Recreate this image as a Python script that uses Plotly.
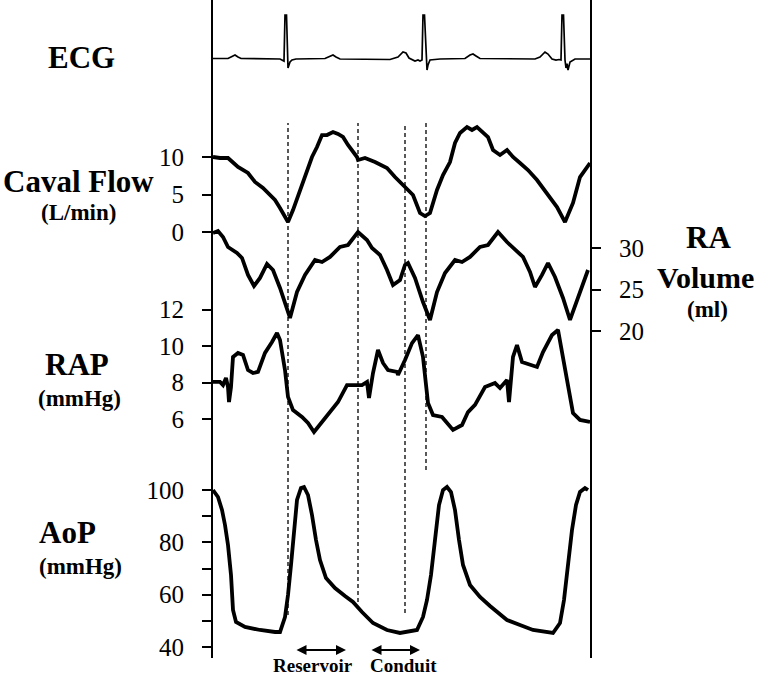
import plotly.graph_objects as go

# ---------------- data (time in s) ----------------
ecg_t = [0, 0.075, 0.095, 0.11, 0.125, 0.14, 0.335, 0.35, 0.355, 0.36, 0.3675, 0.375, 0.385, 0.395, 0.415,
         0.56, 0.585, 0.6, 0.615, 0.635, 0.885, 0.925, 0.95, 0.965, 0.98, 1.01, 1.025, 1.035, 1.045,
         1.05, 1.0575, 1.065, 1.07, 1.075, 1.085, 1.135, 1.26, 1.285, 1.3, 1.315, 1.335, 1.61, 1.635,
         1.66, 1.675, 1.695, 1.715, 1.73, 1.74, 1.745, 1.7525, 1.76, 1.765, 1.77, 1.775, 1.785, 1.81, 1.885]
ecg_mv = [0, 0, 0.048, 0.083, 0.036, 0, -0.012, -0.036, -0.06, 1.036, 1.036, -0.226, -0.083, -0.036, -0.012,
          0, 0.06, 0.083, 0.036, -0.012, -0.024, 0.036, 0.155, 0.131, 0.012, -0.06, -0.036, -0.06, -0.036,
          1.036, 1.036, -0.036, -0.274, -0.155, -0.036, -0.012, 0, 0.083, 0.107, 0.06, 0, -0.012, 0.036,
          0.155, 0.107, -0.012, -0.036, -0.024, -0.036, 1.036, 1.036, -0.036, -0.226, -0.12, -0.274, -0.083, -0.012, -0.012]

caval_t = [0, 0.035, 0.075, 0.095, 0.125, 0.175, 0.21, 0.25, 0.285, 0.31, 0.335, 0.375, 0.4, 0.435, 0.46,
           0.495, 0.52, 0.545, 0.57, 0.6, 0.625, 0.65, 0.675, 0.72, 0.725, 0.76, 0.81, 0.87, 0.91, 0.96,
           1.0, 1.035, 1.06, 1.085, 1.12, 1.15, 1.185, 1.21, 1.235, 1.27, 1.295, 1.32, 1.35, 1.375, 1.4,
           1.435, 1.47, 1.5, 1.535, 1.575, 1.62, 1.67, 1.72, 1.76, 1.8, 1.835, 1.87, 1.885]
caval_flow = [10.0, 9.87, 9.87, 9.33, 8.67, 7.87, 6.67, 5.87, 4.93, 4.27, 3.2, 1.33, 2.93, 5.6, 7.33,
              10.0, 11.33, 12.93, 12.93, 13.33, 13.07, 12.67, 11.6, 10.0, 9.6, 9.87, 9.33, 8.53, 7.33, 5.93,
              4.93, 2.53, 2.13, 2.53, 5.6, 7.6, 9.33, 11.87, 13.2, 14.0, 13.6, 14.0, 13.2, 12.67, 10.93,
              10.27, 10.93, 10.0, 9.2, 8.27, 6.93, 5.2, 3.33, 1.33, 3.87, 7.33, 8.53, 9.2]

ravol_t = [0, 0.025, 0.05, 0.075, 0.12, 0.145, 0.175, 0.205, 0.235, 0.27, 0.3, 0.335, 0.385, 0.42, 0.46,
           0.51, 0.545, 0.585, 0.635, 0.675, 0.725, 0.77, 0.795, 0.835, 0.87, 0.9, 0.935, 0.96, 0.975,
           1.01, 1.05, 1.085, 1.12, 1.16, 1.21, 1.245, 1.285, 1.335, 1.375, 1.425, 1.47, 1.51, 1.55,
           1.585, 1.61, 1.645, 1.675, 1.71, 1.75, 1.785, 1.82, 1.85, 1.875]
ravol_ml = [31.81, 32.05, 31.33, 30.12, 29.40, 28.80, 26.75, 25.42, 26.39, 28.07, 27.35, 25.18, 21.57, 24.70, 26.75,
            28.55, 28.31, 28.92, 30.12, 30.36, 31.93, 30.96, 30.0, 29.16, 27.35, 25.54, 26.14, 27.95, 28.19,
            26.39, 23.49, 21.33, 24.70, 26.99, 28.55, 28.31, 28.92, 30.12, 30.36, 31.93, 30.72, 29.76, 28.92,
            27.11, 25.30, 26.75, 28.19, 26.51, 23.98, 21.33, 23.73, 25.90, 27.35]

rap_t = [0, 0.035, 0.05, 0.065, 0.075, 0.08, 0.09, 0.1, 0.125, 0.15, 0.175, 0.2, 0.225, 0.26, 0.295, 0.32,
         0.335, 0.36, 0.375, 0.4, 0.445, 0.475, 0.505, 0.545, 0.595, 0.625, 0.67, 0.71, 0.745, 0.77, 0.78,
         0.8, 0.825, 0.85, 0.875, 0.92, 0.925, 0.96, 0.995, 1.025, 1.05, 1.075, 1.1, 1.145, 1.2, 1.245,
         1.275, 1.31, 1.36, 1.41, 1.435, 1.47, 1.48, 1.5, 1.52, 1.545, 1.585, 1.62, 1.65, 1.695, 1.725,
         1.75, 1.775, 1.8, 1.835, 1.87, 1.885]
rap_mmhg = [8.03, 8.03, 7.86, 8.25, 7.75, 6.93, 7.75, 9.40, 9.62, 9.51, 8.68, 8.52, 8.58, 9.62, 10.22, 10.71,
            10.33, 8.68, 7.21, 6.49, 6.11, 5.78, 5.29, 5.84, 6.49, 6.93, 7.86, 7.86, 7.86, 8.03, 7.15,
            8.52, 9.78, 9.07, 8.68, 8.58, 8.41, 9.23, 10.16, 10.60, 9.40, 6.88, 6.22, 6.11, 5.40, 5.67,
            6.38, 6.77, 7.75, 7.97, 7.70, 8.14, 6.93, 9.40, 10.05, 9.12, 8.96, 8.85, 9.67, 10.60, 10.88,
            9.40, 7.75, 6.33, 5.95, 5.84, 5.84]

aop_t = [0, 0.025, 0.045, 0.06, 0.075, 0.09, 0.1, 0.115, 0.16, 0.235, 0.31, 0.335, 0.36, 0.375, 0.39, 0.405,
         0.42, 0.44, 0.455, 0.475, 0.495, 0.515, 0.535, 0.565, 0.61, 0.66, 0.7, 0.745, 0.8, 0.87, 0.935,
         1.02, 1.05, 1.07, 1.09, 1.11, 1.13, 1.15, 1.17, 1.19, 1.21, 1.23, 1.25, 1.285, 1.335, 1.385,
         1.435, 1.47, 1.535, 1.6, 1.7, 1.735, 1.755, 1.775, 1.795, 1.815, 1.835, 1.86, 1.875]
aop_mmhg = [100, 97.33, 92.36, 86.63, 78.98, 67.52, 54.15, 49.56, 47.65, 46.50, 45.74, 45.74, 51.47, 59.88, 71.34, 84.72,
            96.18, 100.76, 101.15, 98.09, 90.45, 80.89, 73.25, 66.37, 62.55, 59.50, 57.20, 53.38, 49.18, 46.50, 45.36,
            46.50, 51.47, 57.97, 67.52, 80.89, 94.27, 100, 101.15, 99.24, 92.36, 80.89, 71.34, 63.70, 59.11, 55.67,
            52.24, 50.32, 48.41, 46.50, 45.36, 49.18, 57.97, 71.34, 84.72, 94.27, 99.24, 100.76, 100]

event_times = [0.375, 0.725, 0.96, 1.065]
phase_names = ["Reservoir", "Conduit"]
phase_arrows = [(0.41, 0.665), (0.785, 1.035)]
phase_label_t = [0.4975, 0.9525]

caval_ticks = [0, 5, 10]
ravol_ticks = [20, 25, 30]
rap_ticks = [6, 8, 10, 12]
aop_ticks = [40, 50, 60, 70, 80, 90, 100]
aop_ticktext = ["40", "", "60", "", "80", "", "100"]

# ---------------- layout geometry ----------------
W, HF = 760, 680
L, R, T, B = 213, 170, 0, 22
PW, PH = W - L - R, HF - T - B
T_END = 1.885


def yrange(v1, p1, v2, p2):
    s = (v2 - v1) / (p2 - p1)
    return [v1 + s * (T + PH - p1), v1 + s * (T - p1)]


def py(p):
    return (T + PH - p) / PH


def px(x):
    return (x - L) / PW


SERIF = "Times New Roman, Liberation Serif, serif"
line_kw = dict(color="black", width=3.8)

fig = go.Figure()
fig.add_trace(go.Scatter(x=ecg_t, y=ecg_mv, mode="lines", line=dict(color="black", width=1.7), yaxis="y"))
fig.add_trace(go.Scatter(x=caval_t, y=caval_flow, mode="lines", line=line_kw, yaxis="y2"))
fig.add_trace(go.Scatter(x=ravol_t, y=ravol_ml, mode="lines", line=line_kw, yaxis="y3"))
fig.add_trace(go.Scatter(x=rap_t, y=rap_mmhg, mode="lines", line=line_kw, yaxis="y4"))
fig.add_trace(go.Scatter(x=aop_t, y=aop_mmhg, mode="lines", line=line_kw, yaxis="y5"))

tick_common = dict(ticks="outside", ticklen=10, tickwidth=2, tickcolor="black", showgrid=False,
                   zeroline=False, showline=False, tickfont=dict(family=SERIF, size=25, color="black"),
                   ticklabelstandoff=13, tickmode="array", anchor="x", overlaying="y")

fig.update_layout(
    width=W, height=HF, autosize=False,
    margin=dict(l=L, r=R, t=T, b=B, pad=0),
    paper_bgcolor="white", plot_bgcolor="white",
    showlegend=False,
    xaxis=dict(range=[0, T_END], visible=False, showgrid=False, zeroline=False),
    yaxis=dict(range=yrange(0, 58.5, 1, 16.5), showline=True, mirror=True, linewidth=2, linecolor="black",
               ticks="", showticklabels=False, showgrid=False, zeroline=False),
    yaxis2=dict(range=yrange(10, 157, 0, 232), tickvals=caval_ticks, side="left", **tick_common),
    yaxis3=dict(range=yrange(30, 248, 20, 331), tickvals=ravol_ticks, side="right", **tick_common),
    yaxis4=dict(range=yrange(10, 346, 6, 419), tickvals=rap_ticks, side="left", **tick_common),
    yaxis5=dict(range=yrange(100, 490, 40, 647), tickvals=aop_ticks, ticktext=aop_ticktext, side="left",
                **tick_common),
)

# event dashed lines
ev_extent = [(123, 615), (123, 602), (123, 613), (123, 470)]
for t, (a, b) in zip(event_times, ev_extent):
    fig.add_shape(type="line", xref="x", yref="paper", x0=t, x1=t, y0=py(b), y1=py(a),
                  line=dict(color="black", width=1.3, dash="4px,3px"))

# phase arrows
for (a, b), name, tl in zip(phase_arrows, phase_names, phase_label_t):
    fig.add_annotation(x=b, y=py(650), xref="x", yref="paper", ax=a, ay=0, axref="x", ayref="pixel",
                       text="", showarrow=True, arrowhead=2, arrowside="end+start", arrowsize=1,
                       arrowwidth=2, arrowcolor="black")
    fig.add_annotation(x=tl, y=py(666), xref="x", yref="paper", text="<b>%s</b>" % name,
                       showarrow=False, xanchor="center", yanchor="middle",
                       font=dict(family=SERIF, size=19, color="black"))


def label(text, x, y, size, anchor="center"):
    fig.add_annotation(x=px(x), y=py(y), xref="paper", yref="paper", text="<b>%s</b>" % text,
                       showarrow=False, xanchor=anchor, yanchor="middle",
                       font=dict(family=SERIF, size=size, color="black"))


label("ECG", 81, 58, 31)
label("Caval Flow", 78, 182, 31)
label("(L/min)", 78, 212, 23)
label("RAP", 77, 364, 31)
label("(mmHg)", 79, 398, 23)
label("AoP", 37, 532, 31, "left")
label("(mmHg)", 80, 566, 23)
label("RA", 708, 237, 31)
label("Volume", 705, 277, 30)
label("(ml)", 707, 309, 23)

fig.write_html("out.html", config={"displayModeBar": False},
               post_script="document.body.style.margin='0';document.body.style.overflow='hidden';")
